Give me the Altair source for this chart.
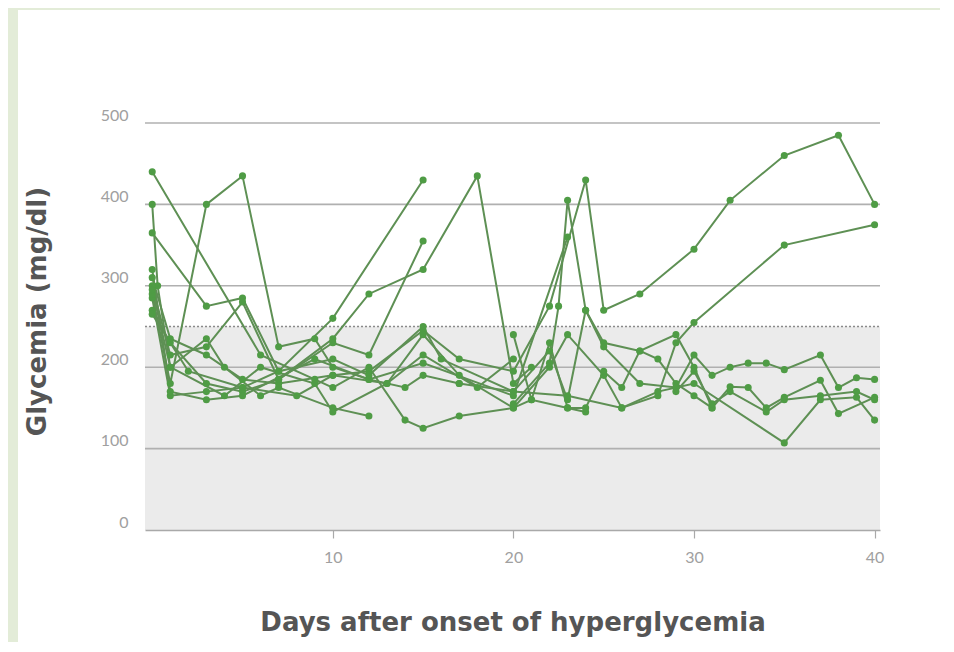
import altair as alt
import pandas as pd

# ---- data ----
p1_days = [0, 1, 3, 5, 7, 10, 12, 15, 17, 20, 22, 24, 25, 27, 30, 32, 35, 38, 40]
p1_vals = [310, 235, 215, 185, 180, 190, 195, 245, 210, 195, 275, 430, 270, 290, 345, 405, 460, 485, 400]
p2_days = [0, 1, 3, 5, 7, 10, 15]
p2_vals = [285, 165, 170, 175, 195, 260, 430]
p3_days = [0, 6, 9, 10, 12, 14, 15, 17, 20, 21, 23, 24]
p3_vals = [440, 215, 185, 175, 200, 135, 125, 140, 150, 160, 150, 145]
p4_days = [0, 0.3, 1, 3, 4, 6, 7, 10, 12]
p4_vals = [400, 300, 200, 235, 200, 165, 175, 150, 140]
p5_days = [0, 1, 3, 5, 7, 9, 10, 12, 14, 15, 17]
p5_vals = [290, 180, 400, 435, 225, 235, 200, 185, 175, 190, 180]
p6_days = [0, 3, 5, 7, 10, 12, 15, 16, 20, 22, 23, 24, 25, 27, 29, 30, 31]
p6_vals = [365, 275, 285, 195, 210, 190, 250, 210, 170, 220, 160, 270, 230, 220, 240, 200, 150]
p7_days = [0, 1, 3, 5, 7, 10, 12, 15, 18, 20, 21]
p7_vals = [270, 230, 180, 170, 185, 235, 290, 320, 435, 180, 200]
p8_days = [0, 1, 3, 5, 7, 10, 12, 15]
p8_vals = [300, 215, 225, 280, 185, 230, 215, 355]
p9_days = [0, 1, 4, 6, 9, 10, 13, 15, 17, 20, 22, 23, 25, 26, 28, 29, 30, 35, 40]
p9_vals = [295, 200, 165, 200, 180, 145, 180, 240, 190, 150, 200, 240, 190, 150, 165, 230, 255, 350, 375]
p10_days = [20, 22, 22.5, 23, 24, 25, 27, 29, 30, 31, 32, 33, 34, 35, 37, 38, 39, 40]
p10_vals = [155, 205, 275, 405, 270, 225, 180, 175, 215, 190, 200, 205, 205, 197, 215, 175, 187, 185]
p11_days = [20, 21, 22, 23, 24, 25, 26, 27, 28, 29, 30, 31, 32, 33, 34, 35, 37, 38, 40]
p11_vals = [240, 160, 230, 150, 150, 195, 175, 220, 210, 180, 165, 150, 176, 175, 150, 163, 184, 143, 163]
p12_days = [17, 20, 23, 26, 28, 30, 35, 37, 39, 40]
p12_vals = [180, 170, 165, 150, 170, 180, 107, 160, 163, 135]
p13_days = [0, 2, 5, 8, 10, 13, 15, 18, 20]
p13_vals = [265, 195, 175, 165, 190, 180, 215, 175, 210]
p14_days = [0, 1, 3, 5, 9, 12, 15, 20, 23]
p14_vals = [320, 170, 160, 165, 210, 185, 205, 165, 360]
p15_days = [29, 30, 31, 32, 34, 35, 37, 39, 40]
p15_vals = [170, 195, 155, 170, 145, 160, 165, 170, 160]

y_ticks = [0, 100, 200, 300, 400, 500]
x_ticks = [10, 20, 30, 40]
grid_lines = [100, 200, 300, 400, 500]
target_band = [0, 250]

patients = [
    (p1_days, p1_vals), (p2_days, p2_vals), (p3_days, p3_vals), (p4_days, p4_vals),
    (p5_days, p5_vals), (p6_days, p6_vals), (p7_days, p7_vals), (p8_days, p8_vals),
    (p9_days, p9_vals), (p10_days, p10_vals), (p11_days, p11_vals), (p12_days, p12_vals),
    (p13_days, p13_vals), (p14_days, p14_vals), (p15_days, p15_vals),
]
rows = []
for i, (ds, vs) in enumerate(patients):
    for k, (d, v) in enumerate(zip(ds, vs)):
        rows.append({"patient": f"P{i+1}", "day": d, "glycemia": v, "ord": k})
df = pd.DataFrame(rows)

W, H = 735, 407
xscale = alt.Scale(domain=[-0.4, 40.3], nice=False, zero=False)
yscale = alt.Scale(domain=[0, 500], nice=False)

x_axis = alt.Axis(values=x_ticks, grid=False, domain=True, domainColor="#a9a9a9", domainWidth=1.5,
                  ticks=True, tickColor="#a9a9a9", tickSize=8, tickWidth=1.2,
                  labelFont="Lato", labelFontSize=16, labelColor="#a0a0a0", labelPadding=11,
                  title="Days after onset of hyperglycemia", titleFont="DejaVu Sans",
                  titleFontSize=26, titleFontWeight="bold", titleColor="#555555",
                  titleY=92, titleBaseline="middle", zindex=2)
y_axis = alt.Axis(values=y_ticks, grid=False, domain=False, ticks=False,
                  labelFont="Lato", labelFontSize=16, labelColor="#a0a0a0", labelPadding=17,
                  labelOffset=-8,
                  title="Glycemia (mg/dl)", titleFont="DejaVu Sans", titleFontSize=26,
                  titleFontWeight="bold", titleColor="#555555", titleAngle=-90,
                  titleX=-108, titleY=188, titleAlign="center", titleBaseline="middle", zindex=2)

# white panel over green background
panel = alt.Chart(pd.DataFrame({"a": [0]})).mark_rect(color="white").encode(
    x=alt.value(-127), x2=alt.value(W + 60), y=alt.value(-113), y2=alt.value(H + 112))

band = alt.Chart(pd.DataFrame({"lo": [target_band[0]], "hi": [target_band[1]]})).mark_rect(
    color="#ebebeb").encode(
    x=alt.value(0), x2=alt.value(W),
    y=alt.Y("lo:Q", scale=yscale, axis=y_axis), y2="hi:Q")

grid = alt.Chart(pd.DataFrame({"g": grid_lines})).mark_rule(color="#b0b0b0", strokeWidth=1.6).encode(
    x=alt.value(0), x2=alt.value(W), y=alt.Y("g:Q", scale=yscale))

limit = alt.Chart(pd.DataFrame({"g": [target_band[1]]})).mark_rule(
    color="#8a8a8a", strokeWidth=1.5, strokeDash=[2, 2]).encode(
    x=alt.value(0), x2=alt.value(W), y=alt.Y("g:Q", scale=yscale))

lines = alt.Chart(df).mark_line(color="#5e9054", strokeWidth=2).encode(
    x=alt.X("day:Q", scale=xscale, axis=x_axis),
    y=alt.Y("glycemia:Q", scale=yscale),
    detail="patient:N", order="ord:Q")

points = alt.Chart(df).mark_circle(color="#4f9c45", size=50, opacity=1).encode(
    x=alt.X("day:Q", scale=xscale), y=alt.Y("glycemia:Q", scale=yscale))

chart = alt.layer(panel, band, grid, limit, lines, points).properties(
    width=W, height=H,
    autosize=alt.AutoSizeParams(type="none"),
    padding={"left": 137, "top": 115, "right": 60, "bottom": 112},
    background="#e3ecd8",
).configure_view(stroke=None)

chart.save("out.html", embed_options={"renderer": "svg", "actions": False})
